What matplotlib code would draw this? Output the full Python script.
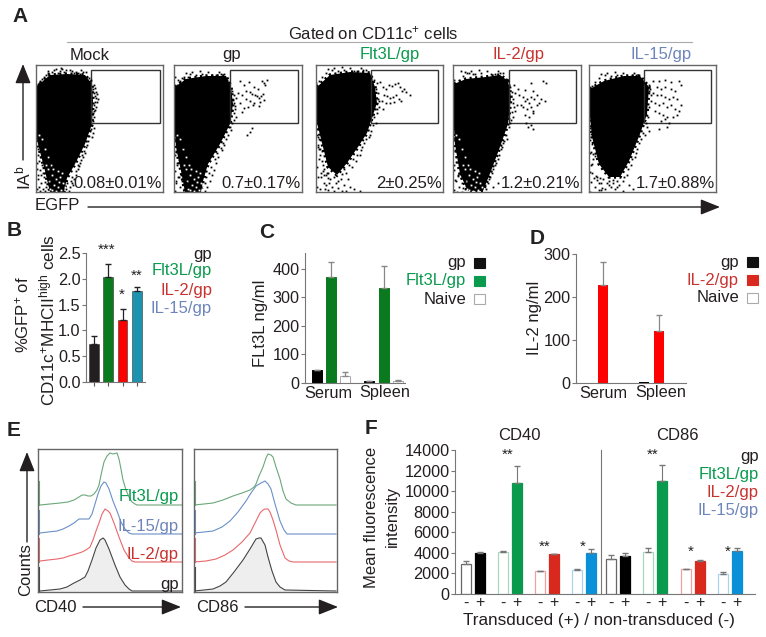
import matplotlib
matplotlib.use("Agg")
import matplotlib.pyplot as plt
from matplotlib.patches import Rectangle, Polygon

plt.rcParams["font.family"] = ["Liberation Sans", "DejaVu Sans"]
plt.rcParams["mathtext.fontset"] = "custom"
plt.rcParams["mathtext.rm"] = "Liberation Sans"
plt.rcParams["mathtext.default"] = "regular"

W, H = 766, 637

DARK = "#231f20"
TXT_GREEN = "#0a9a4e"
TXT_RED = "#c8322f"
TXT_BLUE = "#6e85bb"

# panel A: percentages, blob outlines and loose events
flow_names = ["Mock", "gp", "Flt3L/gp", "IL-2/gp", "IL-15/gp"]
flow_pct = ["0.08±0.01%", "0.7±0.17%", "2±0.25%", "1.2±0.21%", "1.7±0.88%"]

mock_blob = [(0, 22), (14, 10), (31, 9), (49, 10), (56, 19), (57, 36), (56, 59), (49, 79), (39, 99), (31, 113), (28, 127), (14, 127), (9, 106), (2, 79), (0, 69)]
gp_blob = [(1, 22), (12, 14), (32, 11), (52, 11), (57, 22), (59, 39), (56, 59), (46, 79), (34, 99), (29, 116), (27, 127), (11, 127), (7, 106), (2, 82), (1, 69)]
flt_blob = [(1, 22), (14, 10), (34, 7), (54, 8), (59, 22), (61, 38), (51, 68), (42, 82), (31, 98), (21, 110), (12, 102), (6, 78), (1, 58)]
il2_blob = [(1, 19), (13, 14), (33, 12), (47, 10), (55, 16), (58, 32), (55, 59), (47, 82), (38, 106), (30, 126), (15, 126), (7, 109), (2, 79), (1, 62)]
il15_blob = [(1, 24), (15, 16), (35, 11), (51, 11), (60, 22), (58, 49), (51, 69), (40, 96), (31, 112), (20, 112), (10, 99), (3, 72), (1, 52)]

mock_pts = [(57, 24), (58, 28), (59, 31), (60, 33), (61, 37), (58, 40), (60, 42), (59, 45), (62, 34), (57, 48), (58, 52), (56, 60), (58, 63), (54, 66), (57, 68), (52, 76), (50, 82), (49, 88), (47, 92), (44, 98), (42, 104), (43, 101), (40, 110), (38, 114), (36, 118), (34, 122), (37, 120), (33, 126), (30, 124), (5, 118), (3, 122), (7, 124), (9, 117), (2, 110), (4, 105), (1, 98), (6, 100), (2, 90), (5, 92), (20, 4), (24, 6), (30, 5), (36, 6), (40, 7), (12, 8), (8, 12), (4, 16), (2, 19), (44, 9), (25, 3), (58, 20), (59, 23), (60, 27), (59, 37), (61, 29), (57, 56), (58, 46), (55, 64), (56, 72), (53, 71), (51, 80), (48, 86), (46, 90), (45, 95), (42, 100), (40, 106), (36, 112), (35, 116), (31, 118)]
gp_pts = [(66, 16), (70, 20), (75, 17), (80, 22), (84, 24), (88, 16), (90, 18), (91, 20), (93, 15), (72, 26), (76, 27), (78, 29), (81, 30), (83, 31), (85, 33), (87, 31), (89, 29), (90, 35), (86, 37), (80, 38), (76, 36), (72, 34), (68, 30), (64, 28), (62, 33), (60, 38), (66, 38), (70, 43), (68, 47), (74, 42), (79, 40), (85, 41), (78, 63), (76, 67), (73, 70), (61, 44), (62, 52), (60, 48), (58, 58), (56, 62), (54, 70), (50, 80), (48, 85), (44, 92), (42, 98), (40, 105), (38, 110), (36, 116), (33, 122), (31, 126), (4, 112), (2, 118), (6, 122), (8, 116), (3, 100), (1, 90), (5, 95), (10, 120), (1, 12), (4, 15), (8, 13), (14, 12), (58, 26), (60, 30), (59, 35), (61, 41), (58, 45), (60, 55), (57, 65), (52, 74), (49, 78), (47, 83), (43, 88), (41, 94), (37, 102), (35, 108), (32, 112), (31, 118)]
flt_pts = [(58, 15), (61, 18), (64, 17), (67, 22), (70, 24), (73, 20), (76, 21), (79, 19), (82, 18), (84, 22), (86, 26), (88, 24), (90, 27), (94, 30), (68, 30), (71, 31), (74, 33), (77, 32), (80, 30), (83, 34), (85, 36), (78, 37), (74, 38), (70, 38), (66, 36), (62, 34), (60, 38), (63, 42), (67, 44), (61, 48), (58, 52), (56, 50), (60, 58), (54, 70), (50, 74), (46, 82), (44, 90), (40, 96), (36, 102), (30, 108), (25, 114), (20, 118), (14, 114), (10, 110), (8, 118), (16, 122), (22, 123), (28, 120), (32, 114), (38, 124), (3, 64), (5, 75), (2, 80), (4, 90), (7, 100), (5, 112), (12, 125), (60, 24), (62, 28), (63, 36), (61, 44), (57, 60), (55, 66), (53, 72), (48, 78), (45, 85), (41, 90), (37, 94), (33, 100), (28, 104), (26, 109), (18, 112), (22, 116), (12, 108), (8, 104), (6, 96), (3, 84), (2, 72), (18, 126), (26, 126), (34, 122), (30, 126), (44, 126)]
il2_pts = [(61, 20), (65, 24), (72, 25), (78, 18), (80, 26), (84, 30), (90, 16), (93, 18), (62, 28), (66, 30), (70, 32), (72, 36), (74, 34), (76, 38), (78, 32), (81, 34), (84, 40), (86, 38), (88, 34), (92, 36), (68, 40), (70, 42), (74, 44), (78, 42), (80, 46), (60, 38), (64, 40), (62, 46), (72, 50), (76, 52), (80, 48), (73, 58), (75, 62), (78, 60), (80, 64), (60, 52), (58, 55), (56, 62), (53, 70), (50, 78), (48, 84), (46, 90), (42, 100), (40, 104), (37, 112), (35, 118), (33, 124), (40, 122), (45, 118), (5, 110), (3, 116), (6, 122), (9, 118), (12, 124), (1, 100), (3, 92), (8, 6), (14, 8), (20, 9), (1, 15), (57, 22), (59, 27), (60, 34), (61, 42), (59, 47), (57, 58), (54, 74), (51, 76), (49, 82), (45, 94), (43, 98), (39, 108), (36, 114), (32, 120)]
il15_pts = [(60, 20), (64, 16), (70, 16), (76, 15), (82, 17), (90, 16), (92, 20), (68, 22), (72, 24), (76, 22), (82, 24), (86, 26), (60, 26), (64, 28), (68, 30), (72, 30), (76, 32), (80, 34), (84, 32), (88, 34), (92, 40), (62, 36), (66, 38), (70, 40), (74, 38), (78, 42), (82, 40), (86, 44), (90, 46), (66, 46), (70, 48), (74, 50), (78, 52), (84, 52), (88, 50), (72, 56), (76, 54), (80, 58), (58, 62), (60, 66), (70, 64), (78, 62), (56, 70), (50, 78), (48, 84), (46, 92), (42, 100), (38, 110), (34, 116), (30, 120), (24, 118), (18, 118), (14, 114), (10, 118), (6, 122), (8, 112), (3, 108), (2, 100), (4, 94), (1, 88), (40, 120), (44, 124), (34, 126), (12, 125), (26, 124), (61, 24), (62, 30), (60, 42), (59, 52), (57, 58), (54, 68), (52, 74), (47, 88), (43, 94), (39, 104), (35, 112), (28, 116), (20, 116), (22, 122), (16, 124), (20, 120), (28, 122), (24, 115)]

# left and top fringe common to all five plots, shifted a little per plot
fringe_pts = [(1, 72), (3, 76), (2, 84), (4, 86), (6, 88), (1, 104), (3, 96), (7, 108), (5, 110), (8, 112), (2, 114), (11, 110), (12, 115), (10, 122), (13, 120), (1, 124), (4, 126), (9, 126), (16, 7), (18, 5), (22, 8), (28, 7), (34, 5), (38, 8), (42, 8), (47, 7), (50, 7), (10, 10), (6, 14), (3, 18), (0, 20), (53, 13), (55, 15), (7, 70), (9, 80), (10, 92), (13, 100), (1, 60), (2, 66), (12, 6), (26, 4), (45, 5)]
fringe_dy = [0, 2, -2, 1, 3]
# white specks where the lower end of the cloud thins out
hole_pts = [(16, 110), (20, 114), (24, 112), (18, 120), (22, 122), (27, 118), (14, 124), (25, 125), (20, 126), (29, 122), (13, 116), (17, 104), (22, 106), (26, 108), (15, 100), (12, 92), (9, 84), (6, 74), (3, 70), (12, 104), (10, 100), (16, 125), (23, 117)]
hole_show = [True, True, False, True, False]

flow_blobs = [mock_blob, gp_blob, flt_blob, il2_blob, il15_blob]
flow_points = [mock_pts, gp_pts, flt_pts, il2_pts, il15_pts]

# panel B
b_vals = [0.73, 2.03, 1.2, 1.77]
b_tops = [0.9, 2.29, 1.41, 1.85]
b_stars = ["", "***", "*", "**"]

# panel C
c_gp = [45, 7]
c_flt = [372, 333]
c_naive = [25, 7]
c_gp_top = [46, 8]
c_flt_top = [425, 412]
c_naive_top = [40, 9]

# panel D
d_gp = [0, 2]
d_il2 = [228, 122]
d_il2_top = [282, 158]

# panel E: histogram traces, channel and height
e40_flt_x = [2, 12, 22, 30, 36, 41, 44, 47, 50, 53, 56, 59, 61, 63, 66, 69, 72, 75, 79, 81, 83, 85, 88, 91, 94, 97, 99, 144]
e40_flt_h = [0, 1, 2, 3, 5, 8, 10, 10, 9, 9, 11, 15, 20, 30, 43, 49, 52, 51, 52, 46, 36, 25, 15, 8, 3, 1, 0, 0]
e40_il15_x = [2, 10, 19, 25, 31, 36, 41, 46, 51, 54, 57, 60, 63, 66, 68, 71, 75, 79, 83, 87, 91, 94, 144]
e40_il15_h = [1, 2, 3, 5, 8, 11, 15, 15, 15, 20, 30, 40, 48, 52, 51, 45, 33, 23, 12, 5, 1, 0, 0]
e40_il2_x = [2, 10, 19, 25, 31, 38, 44, 48, 52, 55, 58, 61, 64, 67, 70, 72, 76, 81, 86, 91, 94, 97, 144]
e40_il2_h = [1, 2, 3, 4, 6, 8, 10, 12, 15, 22, 31, 39, 48, 53, 51, 49, 39, 25, 12, 4, 1, 0, 0]
e40_gp_x = [2, 12, 22, 29, 36, 42, 47, 50, 54, 58, 62, 65, 67, 71, 77, 82, 87, 91, 94, 144]
e40_gp_h = [0, 1, 2, 4, 8, 11, 14, 20, 31, 43, 51, 53, 51, 42, 26, 14, 6, 2, 0, 0]

e86_flt_x = [0, 10, 19, 29, 39, 48, 56, 60, 62, 65, 69, 72, 74, 77, 79, 82, 86, 89, 92, 97, 102, 142]
e86_flt_h = [0, 1, 2, 5, 9, 12, 15, 18, 21, 29, 38, 47, 51, 50, 48, 38, 26, 14, 6, 2, 0, 0]
e86_il15_x = [0, 10, 19, 28, 36, 44, 52, 57, 62, 67, 71, 74, 77, 81, 86, 90, 93, 142]
e86_il15_h = [1, 2, 3, 7, 13, 22, 33, 41, 48, 51, 53, 50, 45, 30, 13, 4, 0, 0]
e86_il2_x = [0, 12, 22, 31, 39, 48, 56, 61, 66, 69, 71, 74, 76, 79, 82, 86, 91, 95, 99, 142]
e86_il2_h = [0, 1, 3, 7, 12, 20, 29, 39, 49, 52, 53, 53, 50, 42, 32, 17, 4, 1, 0, 0]
e86_gp_x = [0, 10, 19, 26, 32, 40, 49, 56, 62, 65, 67, 71, 74, 78, 82, 86, 91, 142]
e86_gp_h = [0, 1, 2, 5, 9, 19, 31, 42, 52, 53, 53, 46, 34, 20, 9, 4, 1, 0]

# panel F
f_cd40 = [2900, 3950, 4050, 10750, 2200, 3900, 2300, 4000]
f_cd40_top = [3250, 4100, 4200, 12450, 2230, 3930, 2450, 4400]
f_cd86 = [3400, 3700, 4100, 11000, 2400, 3250, 1950, 4150]
f_cd86_top = [3800, 4000, 4500, 12500, 2450, 3270, 2100, 4500]
f_signs = ["-", "+"] * 8


fig = plt.figure(figsize=(W / 100, H / 100), dpi=100)


def ax_px(x0, y0, x1, y1):
    # box given in image pixels, y downwards
    return fig.add_axes([x0 / W, 1 - y1 / H, (x1 - x0) / W, (y1 - y0) / H])


def bar_axis(ax, ymax, xr):
    ax.set_ylim(0, ymax)
    ax.set_xlim(*xr)
    ax.patch.set_alpha(0)
    for s in ["top", "right"]:
        ax.spines[s].set_visible(False)
    for s in ["left", "bottom"]:
        ax.spines[s].set_color("#777777")
        ax.spines[s].set_linewidth(0.8)
    ax.tick_params(axis="y", labelsize=11.7, length=3, width=0.8, color="#777777", pad=1, labelcolor=DARK)


# overlay for all free text and arrows
ov = fig.add_axes([0, 0, 1, 1], zorder=10)
ov.set_xlim(0, W)
ov.set_ylim(H, 0)
ov.axis("off")


def txt(x, y, s, size=12, color=DARK, ha="center", va="center", **kw):
    ov.text(x, y, s, fontsize=size, color=color, ha=ha, va=va, **kw)


def arrow(x0, y0, x1, y1, head=16):
    ov.annotate("", xy=(x1, y1), xytext=(x0, y0),
                arrowprops=dict(arrowstyle="-|>,head_length=0.75,head_width=0.3", color=DARK, lw=1.0,
                                shrinkA=0, shrinkB=0, mutation_scale=head))


# A
boxes = [(36, 163), (174, 302), (316, 443), (453, 581), (589, 716)]
gates = [(91, 160), (230, 298), (371, 438), (509, 576), (644, 711)]
name_x = [90, 232, 390, 519, 661]
name_col = [DARK, DARK, TXT_GREEN, TXT_RED, TXT_BLUE]
for i in range(5):
    x0, x1 = boxes[i]
    ax = ax_px(x0, 65, x1, 192)
    ax.set_xlim(0, x1 - x0)
    ax.set_ylim(127, 0)
    ax.set_xticks([])
    ax.set_yticks([])
    for s in ax.spines.values():
        s.set_color("#666666")
        s.set_linewidth(1.0)
    ax.add_patch(Polygon(flow_blobs[i], closed=True, fc="black", ec="black", lw=2.5, ls=(0, (0.6, 1.0))))
    if hole_show[i]:
        ax.plot([p[0] for p in hole_pts], [p[1] for p in hole_pts], "s", color="white", ms=1.3, mew=0)
    ax.plot([p[0] for p in flow_points[i]], [p[1] for p in flow_points[i]], "s", color="black", ms=1.3, mew=0)
    ax.plot([p[0] for p in fringe_pts], [p[1] + fringe_dy[i] for p in fringe_pts], "s", color="black", ms=1.3, mew=0)
    ax.add_patch(Rectangle((gates[i][0] - x0, 5), gates[i][1] - gates[i][0], 53, fc="none", ec="#333333", lw=1.0))
    txt(name_x[i], 55, flow_names[i], 12, name_col[i])
    txt(x1 - 1, 183, flow_pct[i], 12, DARK, ha="right")

txt(20, 16, "A", 15, "#222222", fontweight="bold")
txt(373, 33, "Gated on CD11c$^{+}$ cells", 12)
ov.plot([67, 692], [42, 42], color="#aaaaaa", lw=0.8)
txt(23, 178, "IA$^{b}$", 12.5, rotation=90)
txt(57, 205, "EGFP", 12)
arrow(88, 207, 720, 207)
arrow(23, 160, 23, 64)

# B
ax = ax_px(86, 253, 145, 382)
bar_axis(ax, 2.5, (-0.56, 3.57))
b_pos = list(range(len(b_vals)))
b_cols = [DARK, "#0a7a1e", "#ff0000", "#1d93b0"]
ax.bar(b_pos, b_vals, width=0.68, color=b_cols, edgecolor="#333333", linewidth=0.4)
for p, v, t, c in zip(b_pos, b_vals, b_tops, b_stars):
    ax.errorbar(p, v, yerr=[[0], [t - v]], color="#222222", capsize=2.5, lw=0.9)
ax.set_yticks([0, 0.5, 1, 1.5, 2, 2.5])
ax.set_yticklabels(["0.0", "0.5", "1.0", "1.5", "2.0", "2.5"])
ax.set_xticks(b_pos)
ax.set_xticklabels([])
ax.tick_params(axis="x", length=3, width=0.8, color="#555555")
for x, y, s in zip([107, 122, 137], [250, 295, 276], b_stars[1:]):
    txt(x, y, s, 11)
txt(14, 231, "B", 15, "#222222", fontweight="bold")
txt(22, 315, "%GFP$^{+}$ of", 12, rotation=90)
txt(47, 320, "CD11c$^{+}$MHCII$^{high}$ cells", 12.3, rotation=90)
for y, s, c in zip([254, 271, 291, 308], ["gp", "Flt3L/gp", "IL-2/gp", "IL-15/gp"], [DARK, TXT_GREEN, TXT_RED, TXT_BLUE]):
    txt(212, y, s, 12, c, ha="right")

# C
ax = ax_px(305, 253, 405, 383)
bar_axis(ax, 456, (305, 405))
c_x = [[317, 369], [331, 384], [345, 398]]
for xs, v, t, fc, ec in zip(c_x, [c_gp, c_flt, c_naive], [c_gp_top, c_flt_top, c_naive_top],
                            ["black", "#0a7a1e", "white"], ["black", "#0a7a1e", "#aaaaaa"]):
    ax.bar(xs, v, width=10, color=fc, edgecolor=ec, linewidth=0.7)
    ax.errorbar(xs, v, yerr=[[0, 0], [a - b for a, b in zip(t, v)]], fmt="none", ecolor="#888888", capsize=2.5, lw=0.9)
ax.set_yticks([0, 100, 200, 300, 400])
ax.set_xticks([])
txt(267, 232, "C", 15, "#222222", fontweight="bold")
txt(260, 323, "FLt3L ng/ml", 12, rotation=90)
txt(328, 393, "Serum", 11.7)
txt(385, 393, "Spleen", 11.7)
for y, s, c, fc, ec in zip([263, 281, 299], ["gp", "Flt3L/gp", "Naive"], [DARK, TXT_GREEN, DARK],
                           ["#111111", TXT_GREEN, "white"], ["#111111", TXT_GREEN, "#aaaaaa"]):
    txt(466, y, s, 12, c, ha="right")
    ov.add_patch(Rectangle((474, y - 5.5), 10.5, 10.5, fc=fc, ec=ec, lw=0.8))

# D
ax = ax_px(576, 254, 686, 383)
bar_axis(ax, 300, (576, 686))
ax.bar([603, 659], d_il2, width=10, color="#ff0000")
ax.bar([589, 644], d_gp, width=10, color="black")
ax.errorbar([603, 659], d_il2, yerr=[[0, 0], [a - b for a, b in zip(d_il2_top, d_il2)]], fmt="none",
            ecolor="#888888", capsize=2.5, lw=0.9)
ax.set_yticks([0, 100, 200, 300])
ax.set_xticks([])
txt(537, 238, "D", 15, "#222222", fontweight="bold")
txt(535, 318, "IL-2 ng/ml", 12, rotation=90)
txt(603, 393, "Serum", 11.7)
txt(661, 393, "Spleen", 11.7)
for y, s, c, fc, ec in zip([262, 280, 298], ["gp", "IL-2/gp", "Naive"], [DARK, TXT_RED, DARK],
                           ["#111111", "#d9281e", "white"], ["#111111", "#d9281e", "#aaaaaa"]):
    txt(739, y, s, 12, c, ha="right")
    ov.add_patch(Rectangle((747, y - 5.5), 10.5, 10.5, fc=fc, ec=ec, lw=0.8))

# E
bases = [1, 30, 58, 87]  # offset of each trace above the box floor
trace_col = ["#444444", "#e8686c", "#6a90c8", "#6aa87a"]
hist_sets = [
    [(e40_gp_x, e40_gp_h), (e40_il2_x, e40_il2_h), (e40_il15_x, e40_il15_h), (e40_flt_x, e40_flt_h)],
    [(e86_gp_x, e86_gp_h), (e86_il2_x, e86_il2_h), (e86_il15_x, e86_il15_h), (e86_flt_x, e86_flt_h)],
]
for (x0, x1), traces in zip([(38, 182), (194, 337)], hist_sets):
    ax = ax_px(x0, 449, x1, 592)
    ax.set_xlim(0, x1 - x0)
    ax.set_ylim(0, 143)
    ax.set_xticks([])
    ax.set_yticks([])
    for s in ax.spines.values():
        s.set_color("#666666")
        s.set_linewidth(1.0)
    for k, ((xs, hs), b, c) in enumerate(zip(traces, bases, trace_col)):
        ys = [h + b for h in hs]
        if k == 0:
            ax.fill_between(xs, b, ys, color="#eeeeee", lw=0)
        ax.plot(xs, ys, color=c, lw=0.8)
        ax.plot([1, 1], [b, b + 24], color=c, lw=0.8)
txt(14, 430, "E", 15, "#222222", fontweight="bold")
for y, s, c in zip([497, 526, 555, 584], ["Flt3L/gp", "IL-15/gp", "IL-2/gp", "gp"], [TXT_GREEN, TXT_BLUE, TXT_RED, DARK]):
    txt(179, y, s, 12, c, ha="right")
txt(26, 570, "Counts", 12, rotation=90)
txt(55, 607, "CD40", 12)
txt(217, 607, "CD86", 12)
arrow(27, 542, 27, 452)
arrow(83, 607, 181, 607)
arrow(245, 607, 338, 607)

# F
ax = ax_px(455, 450, 755, 594)
bar_axis(ax, 14000, (455, 755))
f_x = [466, 480, 503, 517, 540, 554, 577, 591, 611, 625, 648, 662, 686, 700, 723, 737]
f_vals = f_cd40 + f_cd86
f_tops = f_cd40_top + f_cd86_top
f_edge = ["#666666", "black", "#a8d8c0", "#0a9a4e", "#f0a0a0", "#d9281e", "#a8d4ef", "#0a90d8"] * 2
f_face = ["white", "black", "white", "#0a9a4e", "white", "#d9281e", "white", "#0a90d8"] * 2
ax.bar(f_x, f_vals, width=9.5, color=f_face, edgecolor=f_edge, linewidth=0.9)
ax.errorbar(f_x, f_vals, yerr=[[0] * 16, [a - b for a, b in zip(f_tops, f_vals)]], fmt="none",
            ecolor="#777777", capsize=2.5, lw=0.8)
ax.set_yticks(range(0, 14001, 2000))
ax.set_xticks(f_x)
ax.set_xticklabels([])
ax.tick_params(axis="x", length=0)
ax.plot([601, 601], [0, 14000], color="#777777", lw=0.8, clip_on=False)
for x, s in zip(f_x, f_signs):
    txt(x, 603, s, 11.5, "#222222")
for x, y, s in zip([508, 545, 583, 653, 691, 728], [455, 547, 547, 455, 552, 552], ["**", "**", "*", "**", "*", "*"]):
    txt(x, y, s, 11)
txt(371, 429, "F", 15, "#222222", fontweight="bold")
txt(519, 435, "CD40", 12)
txt(677, 435, "CD86", 12)
for y, s, c in zip([457, 474, 492, 510], ["gp", "Flt3L/gp", "IL-2/gp", "IL-15/gp"], [DARK, TXT_GREEN, TXT_RED, TXT_BLUE]):
    txt(759, y, s, 12, c, ha="right")
txt(372, 517, "Mean fluorescence", 12, rotation=90)
txt(392, 516, "intensity", 12, rotation=90)
txt(599, 621, "Transduced (+) / non-transduced (-)", 12.3)

plt.savefig("out.png", dpi=100)
